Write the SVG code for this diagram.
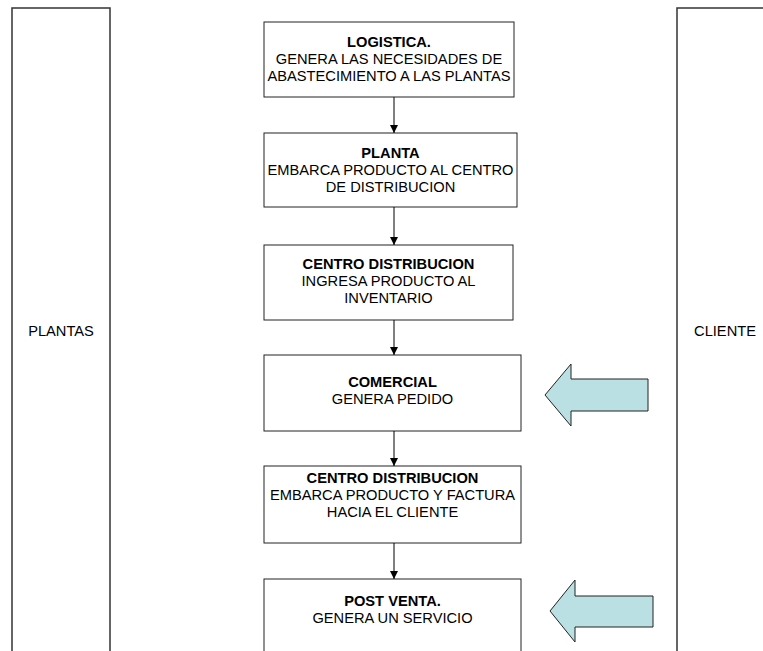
<svg xmlns="http://www.w3.org/2000/svg" width="763" height="651" viewBox="0 0 763 651">
<style>
.lane{fill:#fff;stroke:#333;stroke-width:1.5}
.box{fill:#fff;stroke:#222;stroke-width:1}
.t{font-family:"Liberation Sans",Arial,sans-serif;font-size:14.67px;fill:#000;text-anchor:middle}
.b{font-weight:bold}
.conn{stroke:#000;stroke-width:1;fill:none}
.blk{fill:#BBE0E3;stroke:#222;stroke-width:1}
</style>
<defs>
<marker id="ah" markerWidth="10" markerHeight="10" refX="8" refY="4" orient="auto" markerUnits="userSpaceOnUse">
<path d="M0,0 L8,4 L0,8 Z" fill="#000"/>
</marker>
</defs>
<rect width="763" height="651" fill="#fff"/>
<g id="lane-plantas">
<rect class="lane" x="12" y="8" width="98" height="660"/>
<text class="t" x="61" y="336">PLANTAS</text>
</g>
<g id="lane-cliente">
<rect class="lane" x="677" y="8" width="100" height="660"/>
<text class="t" x="725" y="336">CLIENTE</text>
</g>
<g id="n1">
<rect class="box" x="264" y="22" width="250" height="75"/>
<text class="t b" x="389" y="47">LOGISTICA.</text>
<text class="t" x="389" y="64">GENERA LAS NECESIDADES DE</text>
<text class="t" x="389" y="81">ABASTECIMIENTO A LAS PLANTAS</text>
</g>
<g id="n2">
<rect class="box" x="264" y="133" width="253" height="74"/>
<text class="t b" x="390.5" y="158">PLANTA</text>
<text class="t" x="390.5" y="175">EMBARCA PRODUCTO AL CENTRO</text>
<text class="t" x="390.5" y="192">DE DISTRIBUCION</text>
</g>
<g id="n3">
<rect class="box" x="264" y="245" width="249" height="75"/>
<text class="t b" x="388.5" y="269">CENTRO DISTRIBUCION</text>
<text class="t" x="388.5" y="286">INGRESA PRODUCTO AL</text>
<text class="t" x="388.5" y="303">INVENTARIO</text>
</g>
<g id="n4">
<rect class="box" x="264" y="355" width="257" height="76"/>
<text class="t b" x="392.5" y="387">COMERCIAL</text>
<text class="t" x="392.5" y="404">GENERA PEDIDO</text>
</g>
<g id="n5">
<rect class="box" x="264" y="466" width="257" height="77"/>
<text class="t b" x="392.5" y="483">CENTRO DISTRIBUCION</text>
<text class="t" x="392.5" y="500">EMBARCA PRODUCTO Y FACTURA</text>
<text class="t" x="392.5" y="517">HACIA EL CLIENTE</text>
</g>
<g id="n6">
<rect class="box" x="264" y="579" width="257" height="90"/>
<text class="t b" x="392.5" y="606">POST VENTA.</text>
<text class="t" x="392.5" y="623">GENERA UN SERVICIO</text>
</g>
<g id="arrow-comercial">
<path class="blk" d="M545,395 L571,364 L571,379 L648,379 L648,411 L571,411 L571,426 Z"/>
</g>
<g id="arrow-postventa">
<path class="blk" d="M550,611 L575,580 L575,596 L653,596 L653,627 L575,627 L575,642 Z"/>
</g>
<g id="connectors">
<line class="conn" x1="394" y1="97" x2="394" y2="133" marker-end="url(#ah)"/>
<line class="conn" x1="394" y1="207" x2="394" y2="245" marker-end="url(#ah)"/>
<line class="conn" x1="394" y1="320" x2="394" y2="355" marker-end="url(#ah)"/>
<line class="conn" x1="394" y1="431" x2="394" y2="466" marker-end="url(#ah)"/>
<line class="conn" x1="394" y1="543" x2="394" y2="579" marker-end="url(#ah)"/>
</g>
</svg>
